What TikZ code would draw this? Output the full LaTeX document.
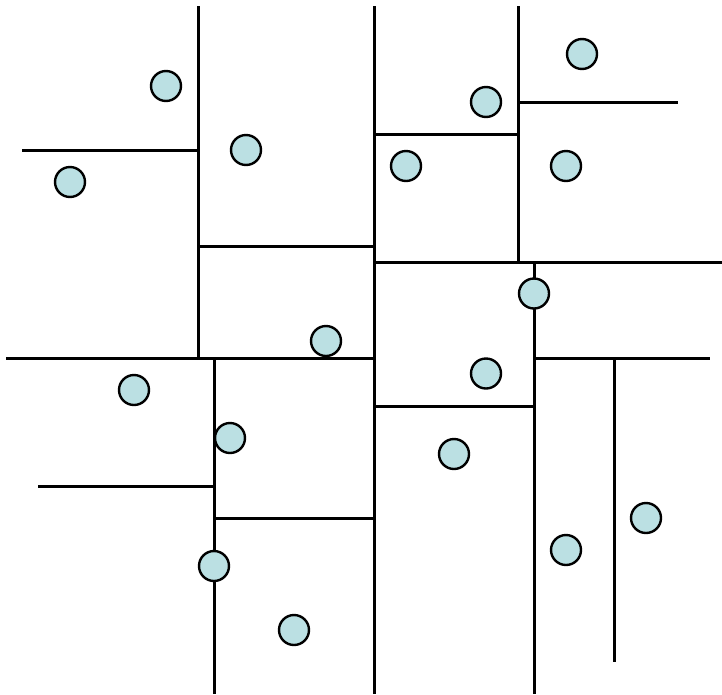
\documentclass[tikz,border=0pt]{standalone}
\begin{document}
\begin{tikzpicture}[x=1pt,y=-1pt,
  seg/.style={line width=3pt, black},
  pt/.style={circle, draw=black, line width=2.4pt, fill={rgb,255:red,187;green,224;blue,227}, minimum size=30pt, inner sep=0pt}]
\useasboundingbox (0,0) rectangle (722,694);
% splitting lines
\draw[seg] (198,6) -- (198,358);
\draw[seg] (374,6) -- (374,694);
\draw[seg] (518,6) -- (518,262);
\draw[seg] (22,150.5) -- (198,150.5);
\draw[seg] (198,246.5) -- (374,246.5);
\draw[seg] (6,358) -- (374,358);
\draw[seg] (518,102) -- (678,102);
\draw[seg] (374,134) -- (518,134);
\draw[seg] (374,262) -- (722,262);
\draw[seg] (534,262) -- (534,694);
\draw[seg] (534,358) -- (710,358);
\draw[seg] (214,358) -- (214,694);
\draw[seg] (38,486) -- (214,486);
\draw[seg] (214,518.5) -- (374,518.5);
\draw[seg] (374,406.5) -- (534,406.5);
\draw[seg] (614,358) -- (614,662);
% points
\node[pt] (p1) at (166,86) {};
\node[pt] (p2) at (70,182) {};
\node[pt] (p3) at (246,150) {};
\node[pt] (p4) at (326,341) {};
\node[pt] (p5) at (582,54) {};
\node[pt] (p6) at (486,102) {};
\node[pt] (p7) at (406,166) {};
\node[pt] (p8) at (566,166) {};
\node[pt] (p9) at (534,293.5) {};
\node[pt] (p10) at (134,390) {};
\node[pt] (p11) at (230,438) {};
\node[pt] (p12) at (214,566) {};
\node[pt] (p13) at (294,630) {};
\node[pt] (p14) at (486,373.5) {};
\node[pt] (p15) at (454,454) {};
\node[pt] (p16) at (646,518) {};
\node[pt] (p17) at (566,550) {};
\end{tikzpicture}
\end{document}
